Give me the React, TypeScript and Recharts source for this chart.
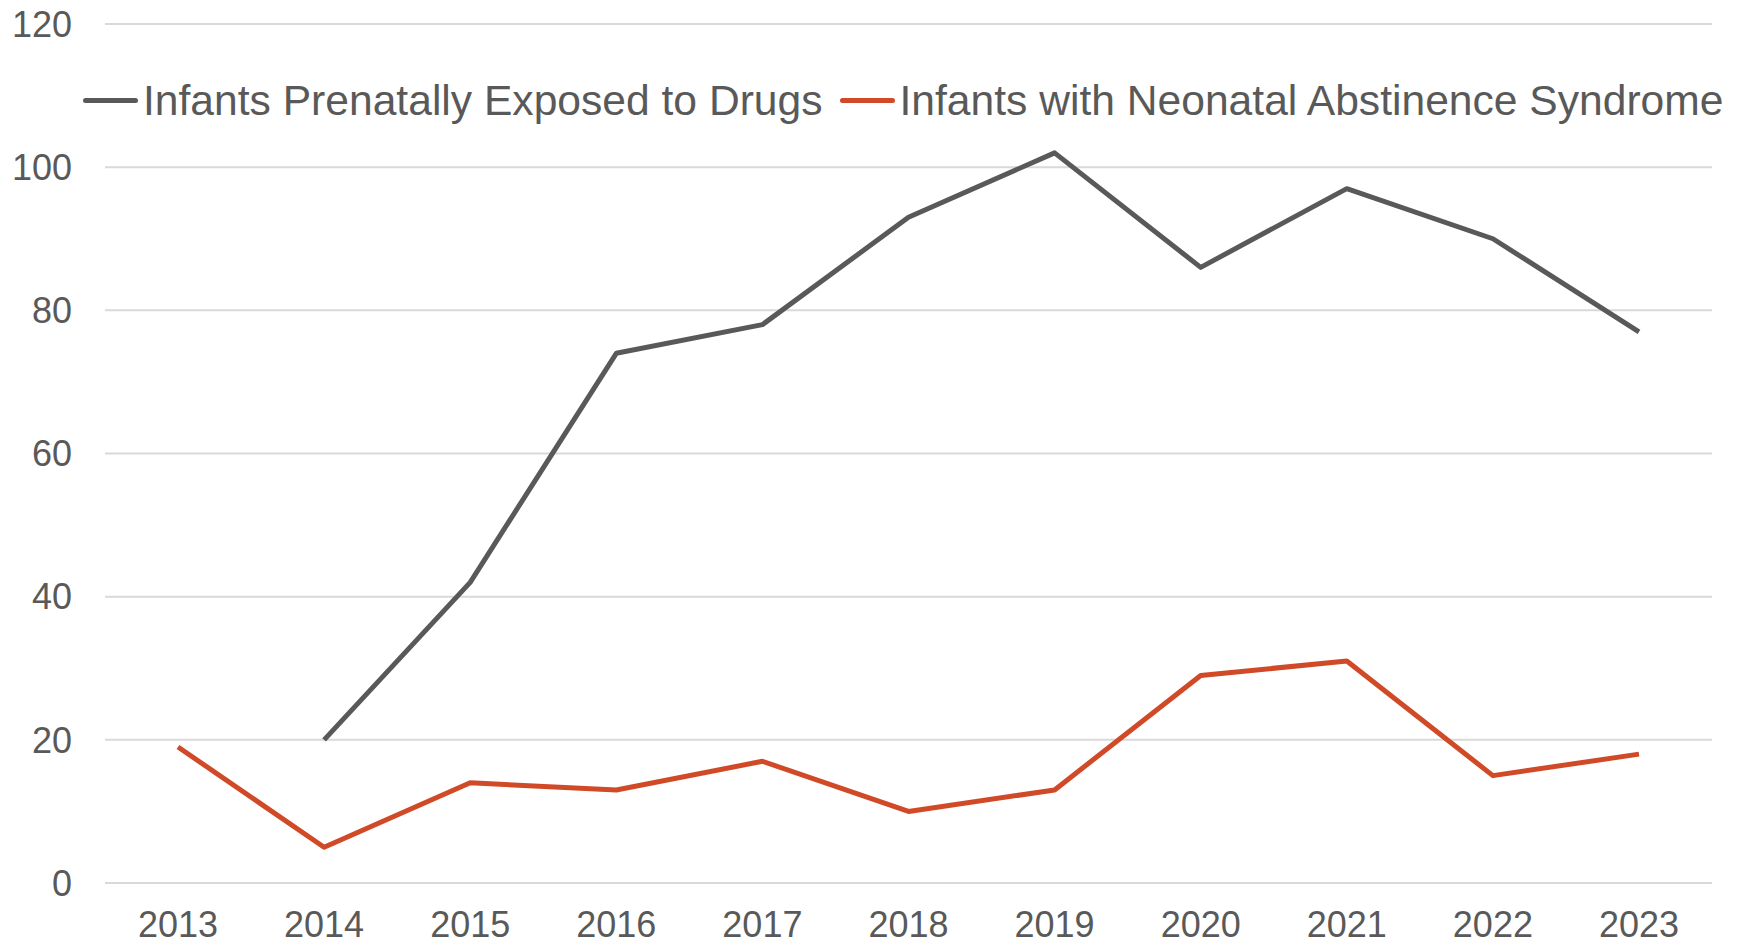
import { LineChart, Line, XAxis, YAxis, CartesianGrid } from "recharts";

const years = ["2013", "2014", "2015", "2016", "2017", "2018", "2019", "2020", "2021", "2022", "2023"];
const exposed: (number | null)[] = [null, 20, 42, 74, 78, 93, 102, 86, 97, 90, 77];
const nas = [19, 5, 14, 13, 17, 10, 13, 29, 31, 15, 18];
const yTicks = [0, 20, 40, 60, 80, 100, 120];

const GRAY = "#595959";
const RED = "#D04A27";
const FONT = "'Liberation Sans', Arial, sans-serif";

const data = years.map((year, i) => ({
  year,
  exposed: exposed[i],
  nas: nas[i],
}));

const legendItems = [
  { label: "Infants Prenatally Exposed to Drugs", color: GRAY },
  { label: "Infants with Neonatal Abstinence Syndrome", color: RED },
];

function ChartLegend() {
  return (
    <div
      style={{
        position: "absolute",
        left: 83,
        top: 76,
        display: "flex",
        alignItems: "center",
        fontFamily: FONT,
        fontSize: 42.6,
        color: GRAY,
        lineHeight: "48px",
        whiteSpace: "nowrap",
      }}
    >
      {legendItems.map((item, i) => (
        <div key={item.label} style={{ display: "flex", alignItems: "center", marginLeft: i === 0 ? 0 : 17 }}>
          <span style={{ display: "inline-block", width: 55, height: 5, borderRadius: 3, background: item.color, marginRight: 5 }} />
          <span>{item.label}</span>
        </div>
      ))}
    </div>
  );
}

export default function App() {
  return (
    <div style={{ position: "fixed", left: 0, top: 0, width: 1746, height: 944, background: "#fff" }}>
      <LineChart width={1746} height={944} data={data} margin={{ top: 24, right: 34, bottom: 0, left: 0 }}>
        <CartesianGrid vertical={false} stroke="#D9D9D9" strokeWidth={2} />
        <XAxis
          dataKey="year"
          height={61}
          padding={{ left: 73, right: 73 }}
          axisLine={false}
          tickLine={false}
          tickSize={0}
          tickMargin={28}
          interval={0}
          tick={{ fill: GRAY, fontSize: 36, fontFamily: FONT }}
        />
        <YAxis
          width={105}
          domain={[0, 120]}
          ticks={yTicks}
          axisLine={false}
          tickLine={false}
          tickSize={0}
          tickMargin={33}
          tick={{ fill: GRAY, fontSize: 36, fontFamily: FONT }}
        />
        <Line
          type="linear"
          dataKey="exposed"
          stroke={GRAY}
          strokeWidth={5}
          dot={false}
          activeDot={false}
          strokeLinejoin="round"
          isAnimationActive={false}
        />
        <Line
          type="linear"
          dataKey="nas"
          stroke={RED}
          strokeWidth={5}
          dot={false}
          activeDot={false}
          strokeLinejoin="round"
          isAnimationActive={false}
        />
      </LineChart>
      <ChartLegend />
    </div>
  );
}
